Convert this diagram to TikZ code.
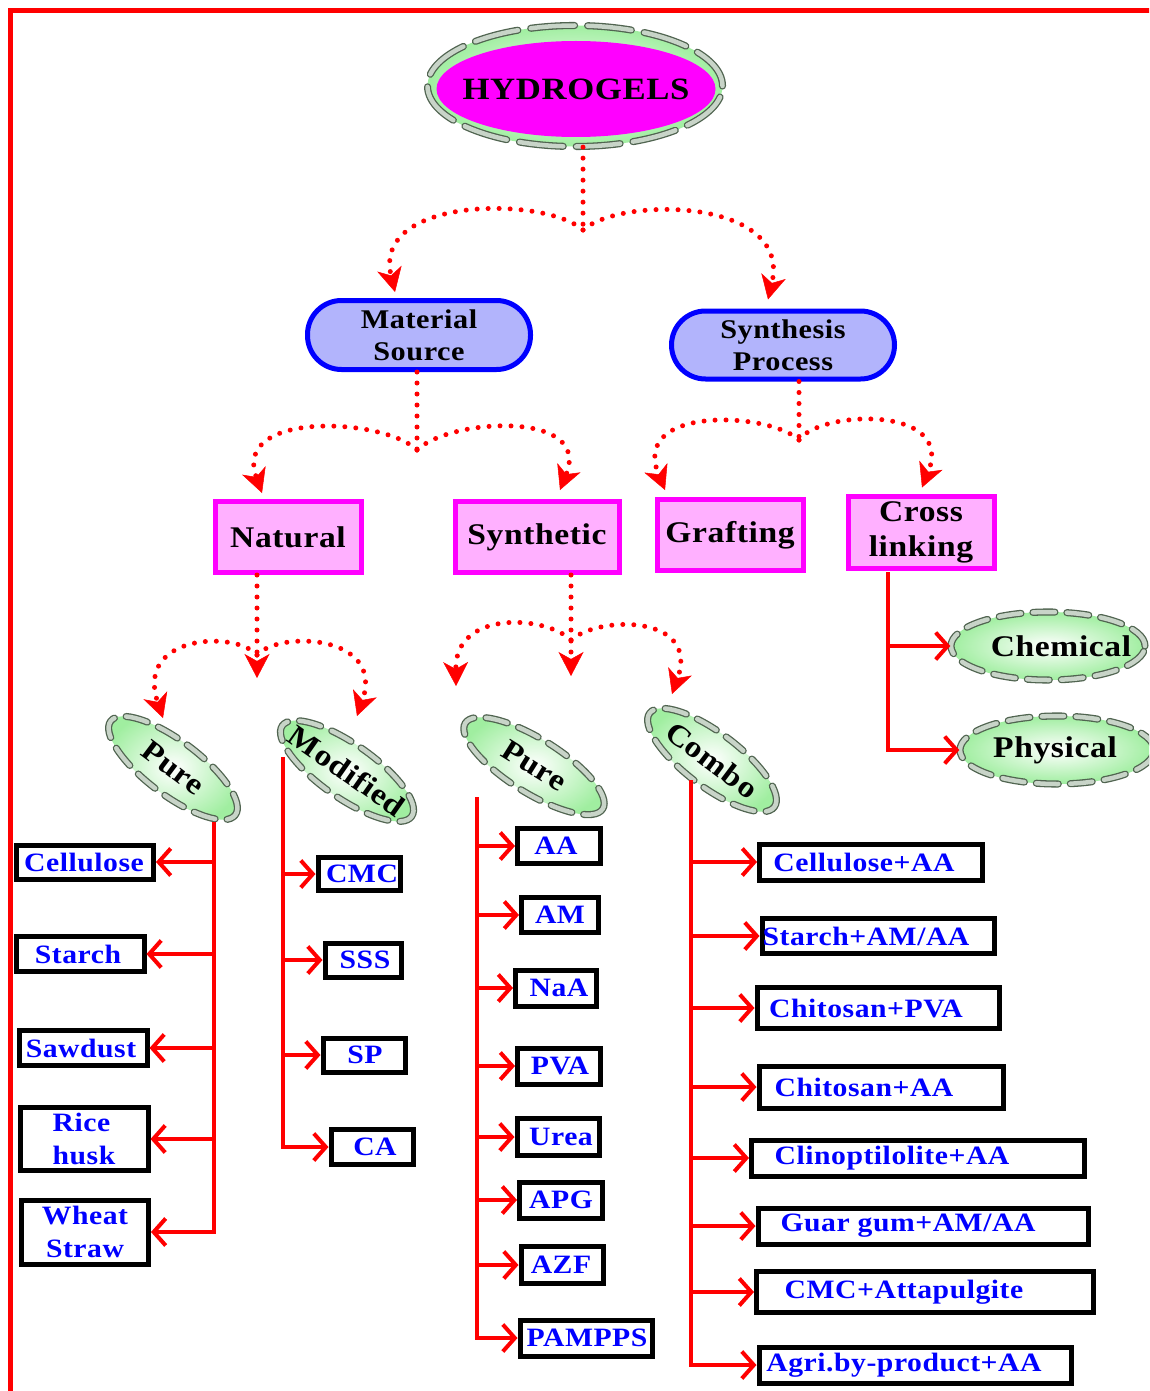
\documentclass[tikz,border=0pt]{standalone}
\usepackage{fontspec}
\newfontfamily\lf{Liberation Serif}[FakeStretch=1.12, LetterSpace=2.0]
\usetikzlibrary{shapes.geometric,arrows.meta,calc}
\definecolor{red1}{RGB}{255,0,0}
\definecolor{lav}{RGB}{178,180,252}
\definecolor{pinkf}{RGB}{255,176,255}
\definecolor{mag}{RGB}{255,0,255}
\definecolor{lgreen}{RGB}{160,238,160}
\definecolor{beadd}{RGB}{80,100,80}
\definecolor{beadl}{RGB}{200,212,200}
\newcommand\shtxt[2]{\makebox[0pt]{\hspace*{#1pt}\hspace*{#1pt}#2}}
\tikzset{
  dotline/.style={red1, line width=5pt, line cap=round, dash pattern=on 0pt off 11pt},
  dotarr/.style={dotline, -{Stealth[length=24pt,width=25pt,inset=7pt,line width=0.5pt]}},
  redarr/.style={red1, line width=4pt, -{Straight Barb[length=12pt,width=27pt]}},
  bluebox/.style={draw=blue, line width=5pt, fill=lav, rounded corners=34pt, align=center, inner sep=2pt,
    font=\lf\bfseries\fontsize{27}{32}\selectfont},
  pinkbox/.style={draw=mag, line width=5pt, fill=pinkf, align=center, inner sep=2pt,
    font=\lf\bfseries\fontsize{30}{35}\selectfont},
  gel/.style={ellipse, inner sep=0pt, shade, inner color=white, outer color=lgreen,
    draw=beadd, double=beadl, double distance=4.5pt, line width=1.3pt, line cap=round,
    dash pattern=on 22pt off 12pt},
  geltext/.style={font=\lf\bfseries\fontsize{30}{36}\selectfont},
  rottext/.style={font=\lf\bfseries\fontsize{30}{36}\selectfont},
  leaf/.style={draw=black, line width=5pt, fill=white, inner sep=0pt, text=blue,
    font=\lf\bfseries\fontsize{26.5}{33}\selectfont}
}
\begin{document}
\begin{tikzpicture}[x=1pt,y=-1pt]
\clip (0,0) rectangle (1149,1391);
\fill[white] (0,0) rectangle (1149,1391);
% frame
\draw[red1, line width=5pt] (1152,11) -- (10,11) -- (10,1394);

% ---------- nodes ----------
\node[gel, dash pattern=on 44pt off 13pt, minimum width=295, minimum height=121] (hydring) at (575,86) {};
\node[ellipse, fill=mag, inner sep=0pt, minimum width=279, minimum height=96,
  font=\lf\bfseries\fontsize{31}{38}\selectfont] (hyd) at (576,89) {\makebox[0pt]{HYDROGELS}};

\node[bluebox, minimum width=223, minimum height=69] (ms) at (419,335) {Material\\Source};
\node[bluebox, minimum width=223, minimum height=68] (spn) at (783,345) {Synthesis\\Process};

\node[pinkbox, minimum width=146, minimum height=71] (nat) at (288,537) {Natural};
\node[pinkbox, minimum width=164, minimum height=71] (syn) at (537,537) {Synthetic};
\node[pinkbox, minimum width=146, minimum height=71] (gra) at (730,535) {Grafting};
\node[pinkbox, minimum width=146, minimum height=72] (cl) at (921,532) {Cross\\linking};

\node[gel, geltext, minimum width=194, minimum height=68] (chem) at (1048,646) {\shtxt{13}{Chemical}};
\node[gel, geltext, minimum width=194, minimum height=68] (phy) at (1057,750) {\shtxt{-2}{Physical}};

\node[gel, rottext, rotate=-37, minimum width=156, minimum height=54] (pu1) at (173,768) {\makebox[0pt]{Pure}};
\node[gel, rottext, rotate=-35, minimum width=158, minimum height=54] (mod) at (347,771) {\makebox[0pt]{Modified}};
\node[gel, rottext, rotate=-32, minimum width=162, minimum height=54] (pu2) at (534,766) {\makebox[0pt]{Pure}};
\node[gel, rottext, rotate=-37, minimum width=156, minimum height=54] (com) at (712,760) {\makebox[0pt]{Combo}};

% leaves
\foreach \n/\x/\y/\w/\h/\d/\t in {
  cel/85/862/142/39/-1/Cellulose, sta/80/954/133/40/-2/Starch, saw/83/1048/133/40/-2/Sawdust,
  cmc/359/874/87/38/3/CMC, sss/363/960/81/39/2/SSS, spl/364/1055/87/39/1/SP, ca/372/1147/87/40/3/CA,
  aa/559/846/88/40/-3/AA, am/560/915/82/40/0/AM, naa/556/988/86/41/3/NaA, pva/559/1066/88/41/1/PVA,
  urea/558/1137/87/42/3/Urea, apg/561/1200/88/41/0/APG, azf/562/1265/87/42/-1/AZF, pam/586/1338/137/41/1/PAMPPS,
  c1/871/862/228/41/-7/Cellulose+AA, c2/878/936/237/40/-12/{Starch+AM/AA}, c3/878/1008/247/46/-12/Chitosan+PVA,
  c4/881/1087/249/47/-17/Chitosan+AA, c5/918/1158/338/41/-26/Clinoptilolite+AA, c6/923/1226/335/41/-15/{Guar gum+AM/AA},
  c7/925/1292/342/46/-21/CMC+Attapulgite, c8/915/1365/317/41/-11/Agri.by-product+AA}
{
  \node[leaf, minimum width=\w-5, minimum height=\h-5] (\n) at (\x,\y) {\shtxt{\d}{\t}};
}
\node[leaf, align=left, minimum width=128, minimum height=63] (ric) at (84,1139) {Rice\\husk};
\node[leaf, align=center, minimum width=127, minimum height=64] (whe) at (85,1232) {Wheat\\Straw};

% ---------- dotted connectors ----------
\coordinate (J1) at (583,230);
\draw[dotline] (J1 |- hydring.south) -- (J1);
\draw[dotarr] (J1) .. controls (545,196) and (372,196) .. ($(ms.north)+(-24,-6)$);
\draw[dotarr] (J1) .. controls (621,196) and (792,198) .. ($(spn.north)+(-15,-9)$);

\coordinate (J2) at (417,450);
\draw[dotline] (J2 |- ms.south) -- (J2);
\draw[dotarr] (J2) .. controls (385,418) and (232,410) .. ($(nat.north)+(-26,-6)$);
\draw[dotarr] (J2) .. controls (450,418) and (592,410) .. ($(syn.north)+(23,-9)$);

\coordinate (J3) at (799,440);
\draw[dotline] (J3 |- spn.south) -- (J3);
\draw[dotarr] (J3) .. controls (770,412) and (630,405) .. ($(gra.north)+(-65,-7)$);
\draw[dotarr] (J3) .. controls (820,410) and (955,405) .. ($(cl.north)+(1,-6)$);

\coordinate (J4) at (257,655);
\coordinate (J4t) at (257,678);
\draw[dotarr] (J4 |- nat.south) -- (J4t);
\draw[dotarr] (J4) .. controls (235,630) and (135,635) .. ($(pu1.center)+(-10,-50)$);
\draw[dotarr] (J4) .. controls (280,630) and (385,635) .. ($(mod.center)+(10,-55)$);

\coordinate (J5) at (571,640);
\coordinate (J5t) at (571,676);
\draw[dotarr] (J5 |- syn.south) -- (J5t);
\draw[dotarr] (J5) .. controls (545,615) and (455,610) .. ($(pu2.center)+(-78,-80)$);
\draw[dotarr] (J5) .. controls (600,615) and (700,615) .. ($(com.center)+(-40,-66)$);

% ---------- red trunk connectors ----------
\coordinate (tP) at (214,822);
\coordinate (tM) at (283,757);
\coordinate (tS) at (477,797);
\coordinate (tC) at (691,780);
\coordinate (tX) at (888,572);

\draw[redarr] (tP) |- (whe.east);
\foreach \n in {cel,sta,saw,ric} \draw[redarr] (tP |- \n.east) -- (\n.east);

\draw[redarr] (tM) |- (ca.west);
\foreach \n in {cmc,sss,spl} \draw[redarr] (tM |- \n.west) -- (\n.west);

\draw[redarr] (tS) |- (pam.west);
\foreach \n in {aa,am,naa,pva,urea,apg,azf} \draw[redarr] (tS |- \n.west) -- (\n.west);

\draw[redarr] (tC) |- (c8.west);
\foreach \n in {c1,c2,c3,c4,c5,c6,c7} \draw[redarr] (tC |- \n.west) -- (\n.west);

\draw[redarr] (tX) |- (phy.west);
\draw[redarr] (tX |- chem.west) -- (chem.west);
\end{tikzpicture}
\end{document}
